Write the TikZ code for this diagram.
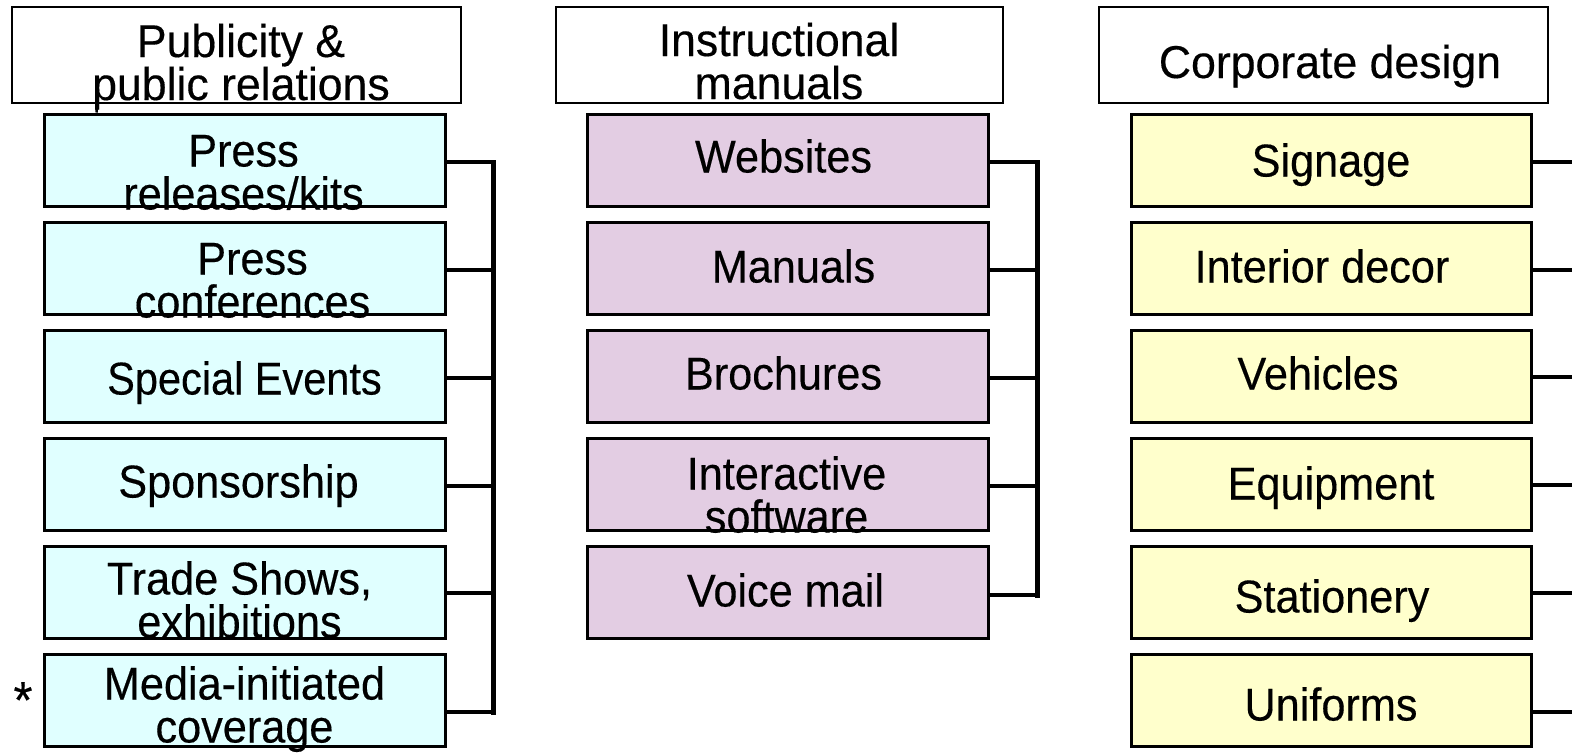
\documentclass[tikz,border=0pt]{standalone}
\usepackage{fontspec}
\setmainfont{Liberation Sans}[FakeStretch=0.94, FakeBold=0.3]
\newfontfamily\hdrfont{Liberation Sans}[FakeStretch=0.97, FakeBold=0.3]
\usetikzlibrary{calc}
\definecolor{pubfill}{RGB}{224,255,255}
\definecolor{manfill}{RGB}{227,205,227}
\definecolor{corpfill}{RGB}{255,255,204}
% two centred lines, baseline of the node on the first line
\newcommand\twolineblock[2]{\vtop{\baselineskip=43pt\lineskiplimit=-100pt\halign{\hfil##\hfil\cr#1\cr#2\cr}}}
\tikzset{
  hdr/.style={draw, line width=2.5pt, fill=white, minimum width=449, minimum height=96, inner sep=0pt},
  item/.style={draw, line width=3pt, minimum width=401, minimum height=92, inner sep=0pt},
  lbl/.style={anchor=base, inner sep=0pt, font=\fontsize{46}{43}\selectfont},
  hlbl/.style={lbl, font=\fontsize{46}{43}\hdrfont},
  conn/.style={line width=3.5pt},
  spine/.style={line width=5pt, line cap=rect},
}
\begin{document}
\begin{tikzpicture}[x=1pt, y=-1pt]
\useasboundingbox (0,0) rectangle (1572,753);

% ---------- column 1: publicity ----------
\node[hdr] (h1) at (236.5,55) {};
\node[hlbl] (h1t) at (241,57) {\twolineblock{Publicity \&}{public relations}};
\node[item, fill=pubfill] (a1) at (244.5,160) {};
\node[item, fill=pubfill] (a2) at (244.5,268) {};
\node[item, fill=pubfill] (a3) at (244.5,376) {};
\node[item, fill=pubfill] (a4) at (244.5,484) {};
\node[item, fill=pubfill] (a5) at (244.5,592) {};
\node[item, fill=pubfill] (a6) at (244.5,700) {};
\node[lbl] (a1t) at ($(a1.north)+(-1,54)$) {\twolineblock{Press}{releases/kits}};
\node[lbl] (a2t) at ($(a2.north)+(8,54)$) {\twolineblock{Press}{conferences}};
\node[lbl, xscale=0.96] (a3t) at ($(a3.north)+(0,66)$) {Special Events};
\node[lbl] (a4t) at ($(a4.north)+(-6,61)$) {Sponsorship};
\node[lbl] (a5t) at ($(a5.north)+(-5,50)$) {\twolineblock{Trade Shows,}{exhibitions}};
\node[lbl] (a6t) at ($(a6.north)+(0,47)$) {\twolineblock{Media-initiated}{coverage}};
\node[lbl, font=\fontsize{52}{52}\selectfont] (star) at (23,718) {*};
\draw[line width=2.5pt] ($(h1.south west)+(86,0)$) -- ($(a1.north west)+(54,0)$);
\coordinate (s1) at (493,162);
\coordinate (s6) at (493,712);
\draw[spine] (s1) -- (s6);
\draw[conn] (a1.east |- s1) -- (s1);
\draw[conn] ($(a2.east)+(0,2)$) -- ++(48,0);
\draw[conn] ($(a3.east)+(0,2)$) -- ++(48,0);
\draw[conn] ($(a4.east)+(0,2)$) -- ++(48,0);
\draw[conn] ($(a5.east)+(0,1)$) -- ++(48,0);
\draw[conn] (a6.east |- s6) -- (s6);

% ---------- column 2: instructional manuals ----------
\node[hdr, minimum width=447] (h2) at (779.5,55) {};
\node[hlbl] (h2t) at (779,56) {\twolineblock{Instructional}{manuals}};
\node[item, fill=manfill] (b1) at (787.5,160) {};
\node[item, fill=manfill] (b2) at (787.5,268) {};
\node[item, fill=manfill] (b3) at (787.5,376) {};
\node[item, fill=manfill] (b4) at (787.5,484) {};
\node[item, fill=manfill] (b5) at (787.5,592) {};
\node[lbl] (b1t) at ($(b1.north)+(-4,60)$) {Websites};
\node[lbl] (b2t) at ($(b2.north)+(6,62)$) {Manuals};
\node[lbl] (b3t) at ($(b3.north)+(-4,61)$) {Brochures};
\node[lbl] (b4t) at ($(b4.north)+(-1,53)$) {\twolineblock{Interactive}{software}};
\node[lbl] (b5t) at ($(b5.north)+(-2,62)$) {Voice mail};
\coordinate (m1) at (1037,162);
\coordinate (m5) at (1037,595);
\draw[spine] (m1) -- (m5);
\draw[conn] (b1.east |- m1) -- (m1);
\draw[conn] ($(b2.east)+(0,2)$) -- ++(48,0);
\draw[conn] ($(b3.east)+(0,2)$) -- ++(48,0);
\draw[conn] ($(b4.east)+(0,2)$) -- ++(48,0);
\draw[conn] (b5.east |- m5) -- (m5);

% ---------- column 3: corporate design ----------
\node[hdr] (h3) at (1323.5,55) {};
\node[hlbl] (h3t) at (1330,78) {Corporate design};
\node[item, minimum width=400, fill=corpfill] (c1) at (1331,160) {};
\node[item, minimum width=400, fill=corpfill] (c2) at (1331,268) {};
\node[item, minimum width=400, fill=corpfill] (c3) at (1331,376) {};
\node[item, minimum width=400, fill=corpfill] (c4) at (1331,484) {};
\node[item, minimum width=400, fill=corpfill] (c5) at (1331,592) {};
\node[item, minimum width=400, fill=corpfill] (c6) at (1331,700) {};
\node[lbl] (c1t) at ($(c1.north)+(0,64)$) {Signage};
\node[lbl] (c2t) at ($(c2.north)+(-9,62)$) {Interior decor};
\node[lbl] (c3t) at ($(c3.north)+(-13,61)$) {Vehicles};
\node[lbl] (c4t) at ($(c4.north)+(0,63)$) {Equipment};
\node[lbl] (c5t) at ($(c5.north)+(1,68)$) {Stationery};
\node[lbl] (c6t) at ($(c6.north)+(0,68)$) {Uniforms};
\coordinate (r1) at (1600,162);
\coordinate (r6) at (1600,712);
\draw[conn] (c1.east |- r1) -- (r1);
\draw[conn] ($(c2.east)+(0,2)$) -- ++(60,0);
\draw[conn] ($(c3.east)+(0,1)$) -- ++(60,0);
\draw[conn] ($(c4.east)+(0,1)$) -- ++(60,0);
\draw[conn] ($(c5.east)+(0,1)$) -- ++(60,0);
\draw[conn] (c6.east |- r6) -- (r6);
\end{tikzpicture}
\end{document}
